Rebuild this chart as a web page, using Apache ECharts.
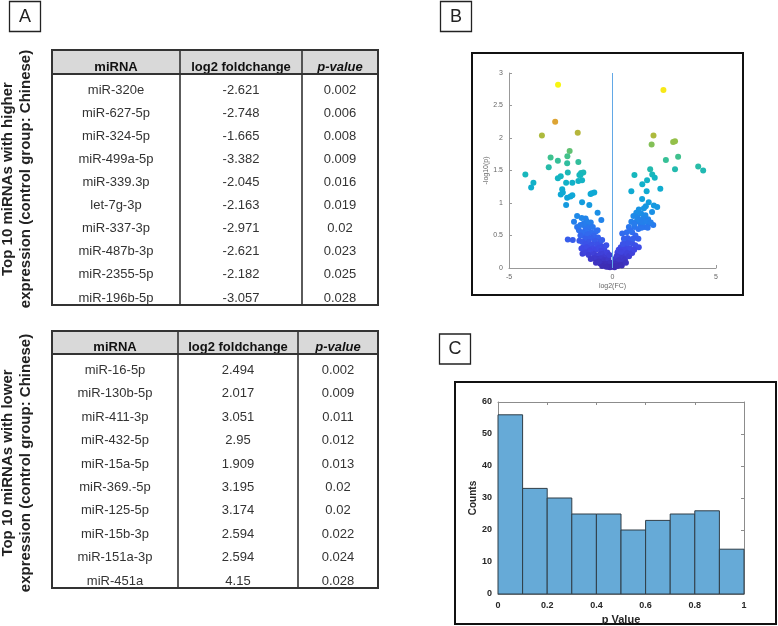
<!DOCTYPE html>
<html>
<head>
<meta charset="utf-8">
<script src="https://cdn.jsdelivr.net/npm/echarts@6/dist/echarts.min.js"></script>
<style>
  html, body { margin: 0; padding: 0; background: #fff; }
  #main { width: 778px; height: 626px; }
</style>
</head>
<body>
<div id="main"></div>
<script>
// table data (panel A)
const tableHeader = ['miRNA', 'log2 foldchange', 'p-value'];
const upMirna = ['miR-320e', 'miR-627-5p', 'miR-324-5p', 'miR-499a-5p', 'miR-339.3p', 'let-7g-3p', 'miR-337-3p', 'miR-487b-3p', 'miR-2355-5p', 'miR-196b-5p'];
const upLog2fc = ['-2.621', '-2.748', '-1.665', '-3.382', '-2.045', '-2.163', '-2.971', '-2.621', '-2.182', '-3.057'];
const upPvalue = ['0.002', '0.006', '0.008', '0.009', '0.016', '0.019', '0.02', '0.023', '0.025', '0.028'];
const downMirna = ['miR-16-5p', 'miR-130b-5p', 'miR-411-3p', 'miR-432-5p', 'miR-15a-5p', 'miR-369.-5p', 'miR-125-5p', 'miR-15b-3p', 'miR-151a-3p', 'miR-451a'];
const downLog2fc = ['2.494', '2.017', '3.051', '2.95', '1.909', '3.195', '3.174', '2.594', '2.594', '4.15'];
const downPvalue = ['0.002', '0.009', '0.011', '0.012', '0.013', '0.02', '0.02', '0.022', '0.024', '0.028'];

// volcano points (panel B): [log2(FC), -log10(p)]
const volcanoLeft = [
  [-2.63, 2.82], [-2.77, 2.25], [-3.41, 2.04], [-1.68, 2.08],
  [-2.07, 1.80], [-2.99, 1.70], [-2.18, 1.72], [-2.64, 1.65], [-1.65, 1.63], [-2.19, 1.61], [-3.08, 1.55],
  [-4.21, 1.44], [-3.82, 1.31], [-3.93, 1.24],
  [-2.64, 1.38], [-2.50, 1.41], [-2.16, 1.47], [-2.24, 1.31], [-1.94, 1.31], [-1.65, 1.34], [-1.60, 1.43],
  [-1.52, 1.46], [-1.41, 1.47], [-1.47, 1.35], [-1.55, 1.43],
  [-2.43, 1.21], [-2.50, 1.13], [-2.40, 1.16], [-2.19, 1.08], [-2.03, 1.10], [-1.94, 1.12], [-2.24, 0.97],
  [-1.47, 1.01], [-1.12, 0.97], [-1.06, 1.14], [-0.88, 1.16], [-1.00, 1.15],
  [-1.71, 0.80], [-1.49, 0.77], [-1.30, 0.76], [-1.86, 0.71], [-1.71, 0.63], [-1.62, 0.58], [-1.33, 0.64],
  [-1.17, 0.67], [-0.54, 0.74], [-0.72, 0.58], [-0.72, 0.85],
  [-2.16, 0.44], [-1.92, 0.43], [-1.36, 0.49], [-1.42, 0.32], [-1.17, 0.32], [-1.38, 0.24], [-1.22, 0.24],
  [-1.25, 0.72], [-1.05, 0.70], [-1.40, 0.68], [-1.55, 0.66], [-1.15, 0.62], [-0.95, 0.63], [-1.30, 0.58],
  [-1.45, 0.55], [-0.80, 0.56], [-1.05, 0.55],
  [-1.55, 0.50], [-1.20, 0.52], [-0.90, 0.50], [-1.30, 0.45], [-1.05, 0.46], [-0.70, 0.47], [-1.60, 0.42],
  [-1.45, 0.40], [-1.15, 0.40], [-0.85, 0.42], [-0.60, 0.40], [-1.30, 0.37], [-1.00, 0.36], [-0.75, 0.36], [-0.50, 0.43],
  [-1.50, 0.30], [-1.25, 0.32], [-0.95, 0.30], [-0.80, 0.28], [-0.65, 0.31], [-0.50, 0.33], [-1.10, 0.27],
  [-0.40, 0.30], [-0.30, 0.35], [-0.55, 0.26],
  [-1.45, 0.22], [-1.30, 0.24], [-1.15, 0.20], [-0.90, 0.22], [-0.75, 0.19], [-0.60, 0.21], [-0.45, 0.22],
  [-0.35, 0.18], [-0.25, 0.24], [-0.70, 0.14], [-0.55, 0.15], [-0.40, 0.12], [-0.90, 0.15], [-1.05, 0.14],
  [-0.30, 0.10], [-0.20, 0.14], [-0.15, 0.20],
  [-0.80, 0.08], [-0.60, 0.07], [-0.45, 0.06], [-0.35, 0.05], [-0.25, 0.06], [-0.15, 0.04], [-0.10, 0.08],
  [-0.05, 0.02], [-0.20, 0.02], [-0.50, 0.03], [-0.65, 0.10], [-0.12, 0.01], [-0.30, 0.02]
];
const volcanoRight = [
  [2.46, 2.74], [1.98, 2.04], [1.89, 1.90], [2.93, 1.94], [3.02, 1.95], [2.58, 1.66], [3.17, 1.71], [3.02, 1.52],
  [4.14, 1.56], [4.38, 1.50],
  [1.82, 1.52], [1.92, 1.44], [2.04, 1.39], [1.67, 1.35], [1.44, 1.29], [1.06, 1.43], [0.91, 1.18], [1.65, 1.18],
  [2.31, 1.22], [1.43, 1.06],
  [1.75, 1.01], [1.61, 0.95], [2.00, 0.96], [2.16, 0.94], [1.91, 0.86], [1.52, 0.92], [1.27, 0.90], [1.15, 0.85],
  [1.38, 0.84], [1.59, 0.81], [1.01, 0.80], [1.48, 0.76], [1.72, 0.75], [1.75, 0.68], [1.97, 0.66], [1.17, 0.72],
  [0.91, 0.71], [1.35, 0.67], [1.56, 0.63], [1.06, 0.63], [0.79, 0.63], [0.69, 0.55], [0.95, 0.55], [0.47, 0.53],
  [1.11, 0.50], [0.72, 0.46], [0.88, 0.44], [0.61, 0.40], [0.95, 0.38], [1.27, 0.32], [0.40, 0.32], [0.66, 0.31],
  [0.79, 0.26], [0.47, 0.22], [0.24, 0.24], [0.63, 0.18], [0.34, 0.17], [0.14, 0.14], [0.55, 0.09], [0.24, 0.09],
  [0.07, 0.07],
  [1.20, 0.78], [1.30, 0.74], [1.45, 0.70], [1.62, 0.72], [1.85, 0.70], [1.05, 0.68], [1.25, 0.60], [0.85, 0.58],
  [1.00, 0.45], [0.55, 0.45], [0.75, 0.38], [0.50, 0.37], [0.30, 0.28], [0.55, 0.28], [0.85, 0.30], [0.70, 0.23],
  [0.40, 0.25], [0.20, 0.18], [0.45, 0.15], [0.60, 0.13], [0.30, 0.12], [0.15, 0.06], [0.35, 0.05], [0.05, 0.03],
  [0.10, 0.01], [0.25, 0.03], [0.45, 0.04], [0.80, 0.18], [0.95, 0.23], [1.10, 0.35], [1.40, 0.62], [1.70, 0.62],
  [0.65, 0.08], [1.25, 0.45], [1.05, 0.28]
];

// histogram (panel C)
const histEdges = [0, 0.1, 0.2, 0.3, 0.4, 0.5, 0.6, 0.7, 0.8, 0.9, 1];
const histCounts = [56, 33, 30, 25, 25, 20, 23, 25, 26, 14];

// parula-like colour ramp, evenly spaced from low to high -log10(p)
const parula = ['#3d2bb0', '#4046e4', '#2f70f0', '#1a8fe6', '#0ea8d6', '#14b6c0', '#3cc190', '#a0c040', '#e0a332', '#f5c72a', '#f8f810'];
const FONT = '"Liberation Sans", Arial, sans-serif';

let myChart = echarts.init(document.getElementById('main'));

// build one table out of graphic elements
function buildTable(cols, top, headerH, rowH, names, fcs, pvals) {
  let els = [];
  let left = cols[0], right = cols[cols.length - 1];
  let bottom = top + headerH + rowH * names.length;
  els.push({ type: 'rect', shape: { x: left, y: top, width: right - left, height: headerH }, style: { fill: '#d9d9d9' } });
  // header text
  tableHeader.forEach((h, i) => {
    els.push({
      type: 'text', x: (cols[i] + cols[i + 1]) / 2, y: top + headerH - 7,
      style: { text: h, font: (i === 2 ? 'italic ' : '') + 'bold 13px ' + FONT, fill: '#111', textAlign: 'center', textVerticalAlign: 'middle' }
    });
  });
  // body
  let columns = [names, fcs, pvals];
  for (let r = 0; r < names.length; r++) {
    let yb = top + headerH + rowH * (r + 1);
    columns.forEach((col, i) => {
      els.push({
        type: 'text', x: (cols[i] + cols[i + 1]) / 2, y: yb - 7,
        style: { text: col[r], font: '13px ' + FONT, fill: '#333', textAlign: 'center', textVerticalAlign: 'middle' }
      });
    });
  }
  // lines
  els.push({ type: 'line', shape: { x1: left, y1: top + headerH, x2: right, y2: top + headerH }, style: { stroke: '#333', lineWidth: 2 } });
  for (let i = 1; i < cols.length - 1; i++) {
    els.push({ type: 'line', shape: { x1: cols[i], y1: top, x2: cols[i], y2: bottom }, style: { stroke: '#333', lineWidth: 1.6 } });
  }
  els.push({ type: 'rect', shape: { x: left, y: top, width: right - left, height: bottom - top }, style: { fill: 'none', stroke: '#333', lineWidth: 2 } });
  return els;
}

function sideLabel(cy, line1, line2) {
  return [8, 26].map((x, i) => ({
    type: 'text', x: x, y: cy, rotation: Math.PI / 2,
    style: { text: i === 0 ? line1 : line2, font: 'bold 15px ' + FONT, fill: '#222', textAlign: 'center', textVerticalAlign: 'middle' }
  }));
}

function panelTag(x, y, letter) {
  return [
    { type: 'rect', shape: { x: x, y: y, width: 31, height: 30 }, style: { fill: '#fff', stroke: '#222', lineWidth: 1.3 } },
    { type: 'text', x: x + 15.5, y: y + 15.5, style: { text: letter, font: '18px ' + FONT, fill: '#222', textAlign: 'center', textVerticalAlign: 'middle' } }
  ];
}

let graphics = [].concat(
  panelTag(9.5, 1.5, 'A'), panelTag(440.5, 1.5, 'B'), panelTag(439.5, 334, 'C'),
  sideLabel(179, 'Top 10 miRNAs with higher', 'expression (control group: Chinese)'),
  sideLabel(463, 'Top 10 miRNAs with lower', 'expression (control group: Chinese)'),
  buildTable([52, 180, 302, 378], 50, 24, 23.1, upMirna, upLog2fc, upPvalue),
  buildTable([52, 178, 298, 378], 331, 23, 23.4, downMirna, downLog2fc, downPvalue),
  [
    { type: 'rect', shape: { x: 472, y: 53, width: 271, height: 242 }, style: { fill: 'none', stroke: '#111', lineWidth: 2 } },
    { type: 'rect', shape: { x: 455, y: 382, width: 321, height: 242 }, style: { fill: 'none', stroke: '#111', lineWidth: 2 } }
  ]
);

let histData = histCounts.map((c, i) => [histEdges[i], histEdges[i + 1], c]);

let smallAxis = { color: '#666', fontSize: 7, fontFamily: FONT };
let histLabel = { color: '#262626', fontSize: 9, fontWeight: 'bold', fontFamily: FONT };

let option = {
  animation: false,
  backgroundColor: '#fff',
  graphic: graphics,
  grid: [
    { left: 509, right: 62, top: 73, bottom: 358 },
    { left: 498, right: 34, top: 402, bottom: 31 }
  ],
  xAxis: [
    {
      gridIndex: 0, type: 'value', min: -5, max: 5, interval: 5,
      name: 'log2(FC)', nameLocation: 'middle', nameGap: 15, nameTextStyle: smallAxis,
      axisLine: { onZero: false, lineStyle: { color: '#999', width: 1 } },
      axisTick: { inside: true, length: 3, lineStyle: { color: '#999' } },
      axisLabel: Object.assign({ margin: 6 }, smallAxis),
      splitLine: { show: false }
    },
    {
      gridIndex: 1, type: 'value', min: 0, max: 1, interval: 0.2,
      name: 'p Value', nameLocation: 'middle', nameGap: 20,
      nameTextStyle: { color: '#262626', fontSize: 11, fontWeight: 'bold', fontFamily: FONT },
      axisLine: { onZero: false, lineStyle: { color: '#8c8c8c' } },
      axisTick: { inside: true, length: 3, lineStyle: { color: '#8c8c8c' } },
      axisLabel: Object.assign({ margin: 7 }, histLabel),
      splitLine: { show: false }
    },
    {
      gridIndex: 1, type: 'value', position: 'top', min: 0, max: 1, interval: 0.2,
      axisLine: { onZero: false, lineStyle: { color: '#8c8c8c' } },
      axisTick: { inside: true, length: 3, lineStyle: { color: '#8c8c8c' } },
      axisLabel: { show: false }, splitLine: { show: false }
    }
  ],
  yAxis: [
    {
      gridIndex: 0, type: 'value', min: 0, max: 3, interval: 0.5,
      name: '-log10(p)', nameLocation: 'middle', nameGap: 16, nameTextStyle: smallAxis,
      axisLine: { show: true, onZero: false, lineStyle: { color: '#999', width: 1 } },
      axisTick: { show: true, inside: true, length: 3, lineStyle: { color: '#999' } },
      axisLabel: Object.assign({ margin: 6 }, smallAxis),
      splitLine: { show: false }
    },
    {
      gridIndex: 1, type: 'value', min: 0, max: 60, interval: 10,
      name: 'Counts', nameLocation: 'middle', nameGap: 19,
      nameTextStyle: { color: '#262626', fontSize: 10, fontWeight: 'bold', fontFamily: FONT },
      axisLine: { show: true, onZero: false, lineStyle: { color: '#8c8c8c' } },
      axisTick: { show: true, inside: true, length: 3, lineStyle: { color: '#8c8c8c' } },
      axisLabel: Object.assign({ margin: 6 }, histLabel),
      splitLine: { show: false }
    },
    {
      gridIndex: 1, type: 'value', position: 'right', min: 0, max: 60, interval: 10,
      axisLine: { show: true, onZero: false, lineStyle: { color: '#8c8c8c' } },
      axisTick: { show: true, inside: true, length: 3, lineStyle: { color: '#8c8c8c' } },
      axisLabel: { show: false }, splitLine: { show: false }
    }
  ],
  visualMap: {
    show: false, type: 'continuous', seriesIndex: 0, dimension: 1,
    min: 0, max: 2.83, inRange: { color: parula }
  },
  series: [
    {
      type: 'scatter', xAxisIndex: 0, yAxisIndex: 0,
      data: volcanoLeft.concat(volcanoRight),
      symbolSize: 6,
      itemStyle: { opacity: 1 },
      markLine: {
        silent: true, symbol: 'none', label: { show: false },
        lineStyle: { color: '#62a8e6', type: 'solid', width: 1 },
        data: [{ xAxis: 0 }]
      }
    },
    {
      type: 'custom', xAxisIndex: 1, yAxisIndex: 1,
      data: histData,
      encode: { x: [0, 1], y: 2 },
      renderItem: function (params, api) {
        let p0 = api.coord([api.value(0), api.value(2)]);
        let p1 = api.coord([api.value(1), 0]);
        return {
          type: 'rect',
          shape: { x: p0[0], y: p0[1], width: p1[0] - p0[0], height: p1[1] - p0[1] },
          style: { fill: '#66aad7', stroke: '#2f3d47', lineWidth: 1 }
        };
      }
    }
  ]
};
myChart.setOption(option);
</script>
</body>
</html>
